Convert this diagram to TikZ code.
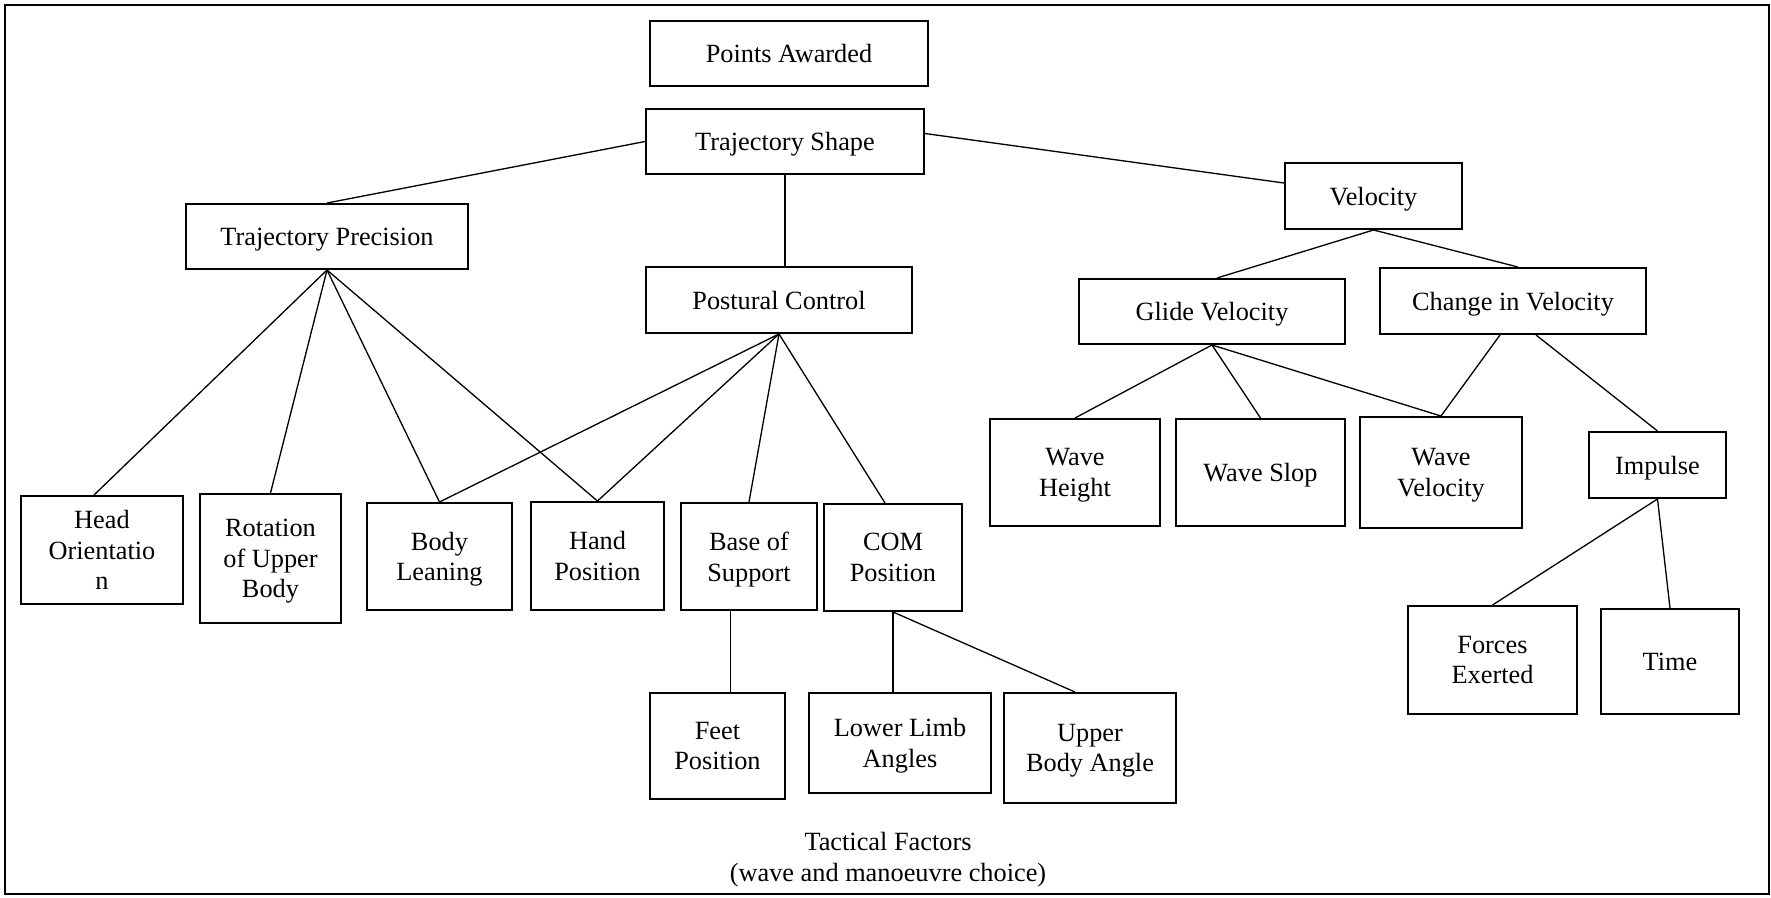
\documentclass[tikz,border=0pt]{standalone}
\usepackage{fontspec}
\setmainfont{Liberation Serif}
\def\px{0.456pt}
\begin{document}
\begin{tikzpicture}[x=\px, y=-\px,
	bx/.style 2 args={draw, line width=0.9pt, align=center, inner sep=2pt,
		minimum width=#1*\px, minimum height=#2*\px, text depth=0pt,
		font=\fontsize{12}{14}\selectfont},
	link/.style={line width=0.6pt}]
	\useasboundingbox (0,0) rectangle (1771,897);
	\draw[line width=0.9pt] (5,5) rectangle (1769,894);

	% top of the tree
	\node[bx={278}{65}] (pa) at (789,53.5) {Points Awarded};
	\node[bx={278}{65}] (ts) at (785,141.5) {Trajectory Shape};
	\node[bx={282}{65}] (tp) at (327,236.5) {Trajectory Precision};
	\node[bx={266}{66}] (pc) at (779,300) {Postural Control};
	\node[bx={177}{66}] (vel) at (1373.5,196) {Velocity};
	\node[bx={266}{65}] (gv) at (1212,311.5) {Glide Velocity};
	\node[bx={266}{66}] (civ) at (1513,301) {Change in Velocity};

	% second row
	\node[bx={162}{108}] (head) at (102,550) {Head\\Orientatio\\n};
	\node[bx={141}{129}] (rot) at (270.5,558.5) {Rotation\\of Upper\\Body};
	\node[bx={145}{107}] (lean) at (439.5,556.5) {Body\\Leaning};
	\node[bx={133}{108}] (hand) at (597.5,556) {Hand\\Position};
	\node[bx={136}{107}] (bos) at (749,556.5) {Base of\\Support};
	\node[bx={138}{107}] (com) at (893,557.5) {COM\\Position};
	\node[bx={170}{107}] (wh) at (1075,472.5) {Wave\\Height};
	\node[bx={169}{107}] (ws) at (1260.5,472.5) {Wave Slop};
	\node[bx={162}{111}] (wv) at (1441,472.5) {Wave\\Velocity};
	\node[bx={137}{66}] (imp) at (1657.5,465) {Impulse};

	% bottom row
	\node[bx={135}{106}] (feet) at (717.5,746) {Feet\\Position};
	\node[bx={182}{100}] (lla) at (900,743) {Lower Limb\\Angles};
	\node[bx={172}{110}] (uba) at (1090,748) {Upper\\Body Angle};
	\node[bx={169}{108}] (fe) at (1492.5,660) {Forces\\Exerted};
	\node[bx={138}{105}] (time) at (1670,661.5) {Time};

	\node[align=center, font=\fontsize{12}{14}\selectfont] (tact) at (888,860)
		{Tactical Factors\\(wave and manoeuvre choice)};

	% connectors
	\draw[link] (ts.west) -- (tp.north);
	\draw[link] ([yshift=8*\px]ts.east) -- ([yshift=13*\px]vel.west);
	\draw[link] (ts.south) -- (ts.south |- pc.north);
	\draw[link] (tp.south) -- ([xshift=-8*\px]head.north);
	\foreach \c in {rot,lean,hand}{%
		\draw[link] (tp.south) -- (\c.north);
	}
	\foreach \c in {lean,hand,bos}{%
		\draw[link] (pc.south) -- (\c.north);
	}
	\draw[link] (pc.south) -- ([xshift=-8*\px]com.north);
	\draw[link] ([xshift=13*\px]feet.north |- bos.south) -- ([xshift=13*\px]feet.north);
	\draw[link] (com.south) -- (com.south |- lla.north);
	\draw[link] (com.south) -- ([xshift=-15*\px]uba.north);
	\foreach \c in {gv,civ}{%
		\draw[link] (vel.south) -- ([xshift=5*\px]\c.north);
	}
	\foreach \c in {wh,ws,wv}{%
		\draw[link] (gv.south) -- (\c.north);
	}
	\draw[link] ([xshift=-13*\px]civ.south) -- (wv.north);
	\draw[link] ([xshift=23*\px]civ.south) -- (imp.north);
	\foreach \c in {fe,time}{%
		\draw[link] (imp.south) -- (\c.north);
	}
\end{tikzpicture}
\end{document}
